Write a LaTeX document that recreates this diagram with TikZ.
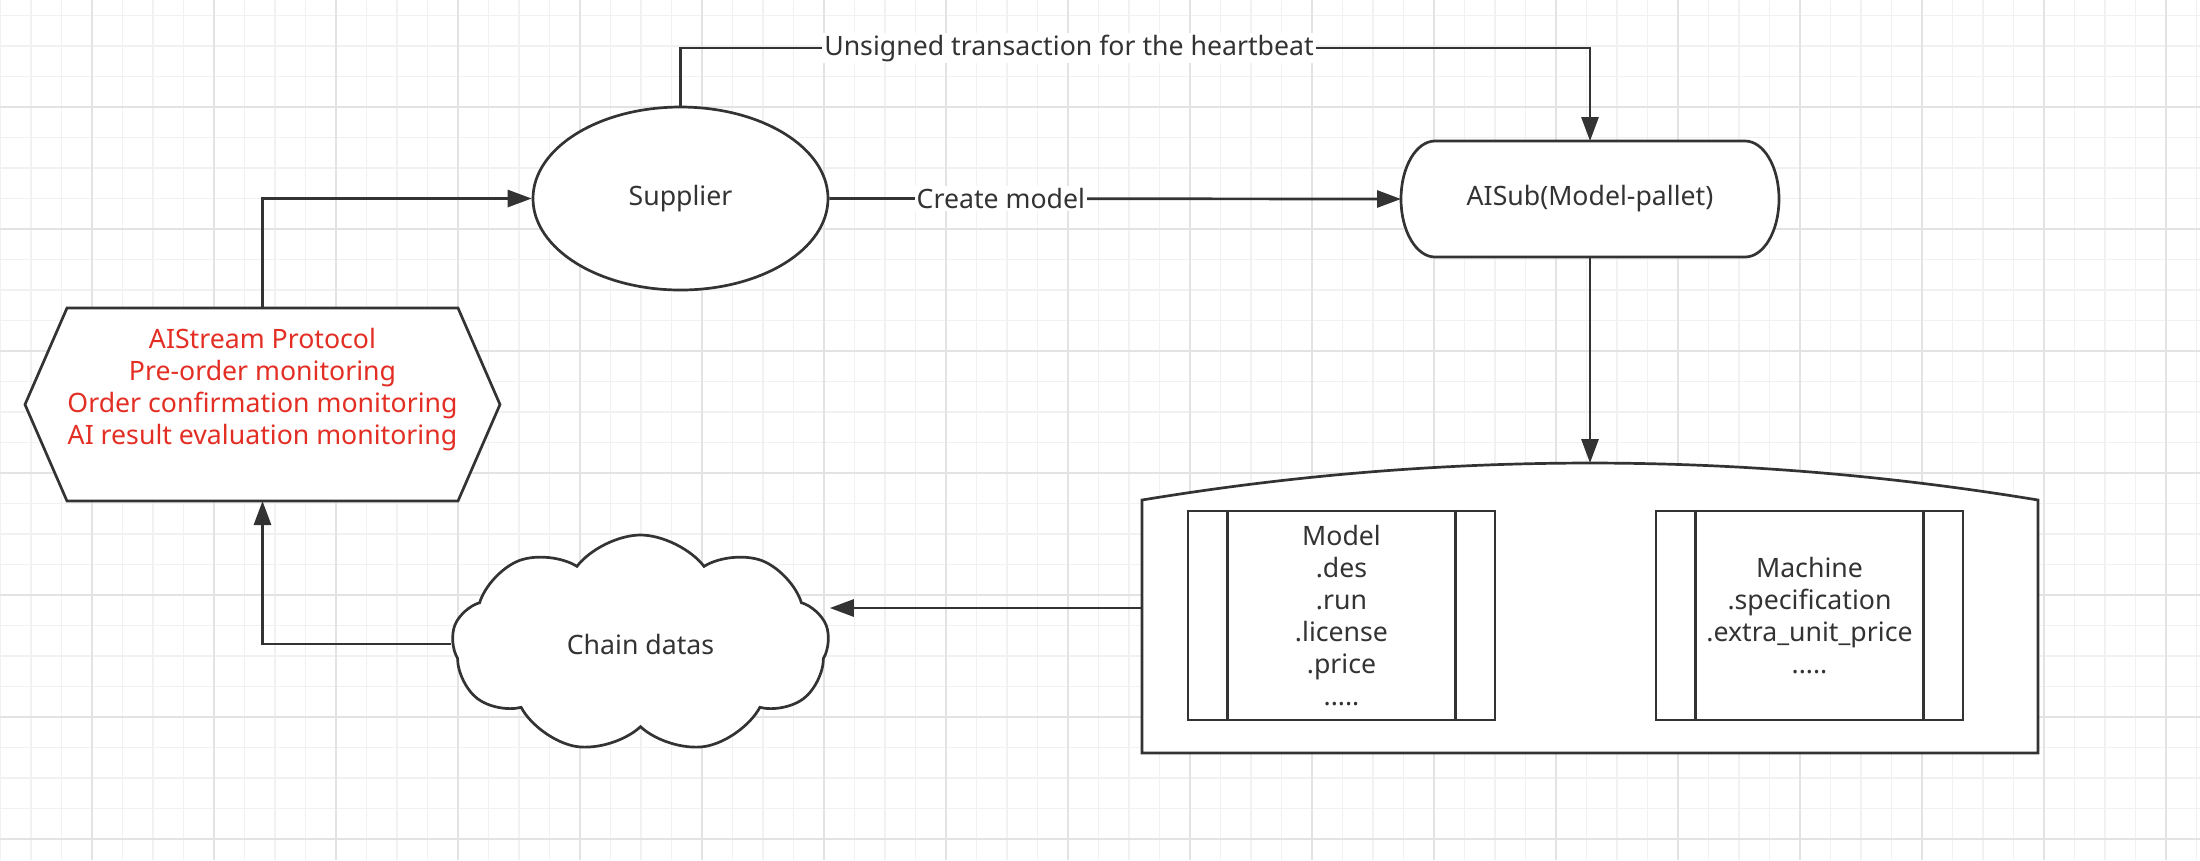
\documentclass[tikz,border=0pt]{standalone}
\usepackage{fontspec}
\setmainfont{Noto Sans}
\usetikzlibrary{arrows.meta,shapes.geometric,shapes.symbols}
\newlength{\du}
\setlength{\du}{7.5pt}
\definecolor{dialinecolor}{rgb}{0.200000, 0.200000, 0.200000}
\definecolor{diaredcolor}{rgb}{0.890000, 0.180000, 0.140000}
\definecolor{diagridminor}{rgb}{0.945000, 0.945000, 0.945000}
\definecolor{diagridmajor}{rgb}{0.890000, 0.890000, 0.890000}
\tikzset{
  dialine/.style={draw=dialinecolor, line width=0.135\du},
  diaarrow/.style={dialine, -{Triangle[length=9pt,width=6.4pt]}},
  diabox/.style={dialine, fill=white, align=center, text=dialinecolor},
  diaplain/.style={draw=none, outer sep=0pt, inner sep=0pt},
  dialabel/.style={fill=white, text=dialinecolor, inner sep=0.1\du},
}

\begin{document}
\begin{tikzpicture}[every node/.style={font=\fontsize{10}{12}\selectfont}]
\pgftransformxscale{1.000000}
\pgftransformyscale{-1.000000}
\useasboundingbox (0\du,0\du) rectangle (110\du,43\du);
\fill[white] (0\du,0\du) rectangle (110\du,43\du);
% grid
\foreach \i in {0,...,72}
  \draw[diagridminor, line width=0.075\du] (\i*1.525\du+0.025\du,0\du) -- ++(0\du,43\du);
\foreach \j in {0,...,27}
  \draw[diagridminor, line width=0.075\du] (0\du,\j*1.525\du+0.765\du) -- ++(110\du,0\du);
\foreach \i in {3,7,...,71}
  \draw[diagridmajor, line width=0.075\du] (\i*1.525\du+0.025\du,0\du) -- ++(0\du,43\du);
\foreach \j in {3,7,...,27}
  \draw[diagridmajor, line width=0.075\du] (0\du,\j*1.525\du+0.765\du) -- ++(110\du,0\du);
% protocol (hexagon)
\node[diaplain, minimum width=23.75\du, minimum height=9.65\du] (proto) at (13.125\du,20.225\du) {};
\filldraw[dialine, fill=white] (proto.west) -- ([xshift=2.1\du]proto.north west) -- ([xshift=-2.1\du]proto.north east) -- (proto.east) -- ([xshift=-2.1\du]proto.south east) -- ([xshift=2.1\du]proto.south west) -- cycle;
\node[align=center, text=diaredcolor] (protoText) at (13.125\du,19.5\du){AIStream Protocol\\Pre-order monitoring\\Order confirmation monitoring\\AI result evaluation monitoring};
% supplier
\node[diabox, ellipse, minimum width=14.75\du, minimum height=9.15\du] (supplier) at (34.025\du,9.925\du){Supplier};
% AISub
\node[diaplain, minimum width=18.9\du, minimum height=5.8\du, text=dialinecolor] (aisub) at (79.5\du,9.95\du){};
\filldraw[dialine, fill=white] ([xshift=1.7\du]aisub.north west) -- ([xshift=-1.7\du]aisub.north east) arc[start angle=-90, end angle=90, x radius=1.7\du, y radius=2.9\du] -- ([xshift=1.7\du]aisub.south west) arc[start angle=90, end angle=270, x radius=1.7\du, y radius=2.9\du] -- cycle;
\node[text=dialinecolor] (aisubText) at (aisub.center){AISub(Model-pallet)};
% storage
\node[diaplain, minimum width=44.8\du, minimum height=12.65\du] (store) at (79.5\du,31.325\du){};
\filldraw[dialine, fill=white] (store.south west) -- (store.north west) .. controls +(14.93\du,-2.465\du) and +(-14.93\du,-2.465\du) .. (store.north east) -- (store.south east) -- cycle;
\coordinate (storeTop) at (79.5\du,23.15\du);
\coordinate (storeOut) at (57.1\du,30.4\du);
% model
\node[diabox, minimum width=15.35\du, minimum height=10.45\du] (model) at (67.075\du,30.775\du){Model\\.des\\.run\\.license\\.price\\.....};
\draw[dialine] ([xshift=2.05\du]model.north west) -- ([xshift=2.05\du]model.south west);
\draw[dialine] ([xshift=-2.05\du]model.north east) -- ([xshift=-2.05\du]model.south east);
% machine
\node[diabox, minimum width=15.35\du, minimum height=10.45\du] (machine) at (90.475\du,30.775\du){Machine\\.specification\\.extra\_unit\_price\\.....};
\draw[dialine] ([xshift=2.05\du]machine.north west) -- ([xshift=2.05\du]machine.south west);
\draw[dialine] ([xshift=-2.05\du]machine.north east) -- ([xshift=-2.05\du]machine.south east);
% chain datas
\node[diabox, cloud, cloud puffs=9, cloud puff arc=105, aspect=1.73, minimum width=18.85\du, minimum height=10.9\du] (chain) at (32.025\du,32.2\du){Chain datas};
% connectors
\draw[diaarrow] (proto.north) |- (supplier.west);
\coordinate (hbLine) at (53.45\du,2.4\du);
\draw[diaarrow] (supplier.north) |- (hbLine) -| (aisub.north);
\node[dialabel] (hbLabel) at (hbLine){Unsigned transaction for the heartbeat};
\draw[diaarrow] (supplier.east) -- node[dialabel, pos=0.3]{Create model} (aisub.west);
\draw[diaarrow] (aisub.south) -- (storeTop);
\draw[diaarrow] (storeOut) -- (chain.east |- storeOut);
\draw[diaarrow] (chain.west) -| (proto.south);
\end{tikzpicture}
\end{document}
